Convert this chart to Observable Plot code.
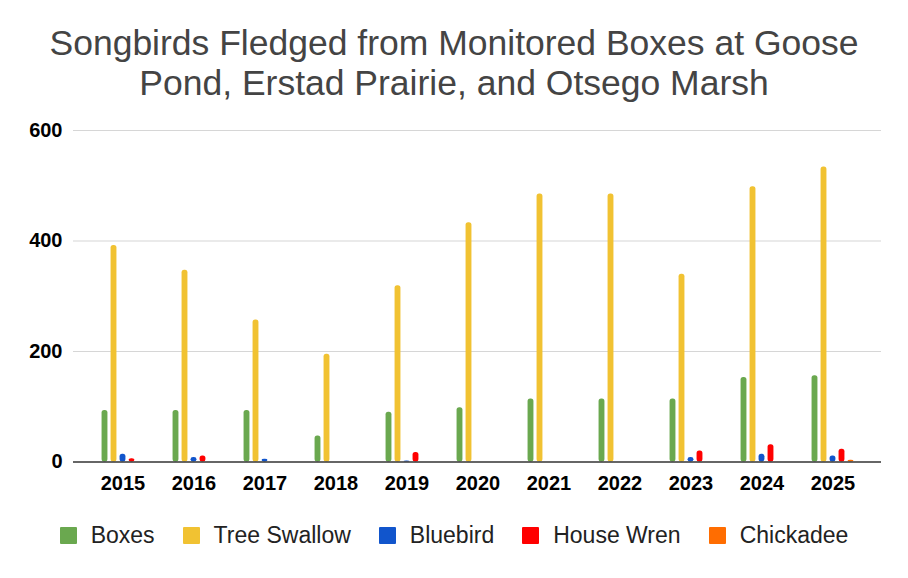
<!DOCTYPE html>
<html>
<head>
<meta charset="utf-8">
<script src="https://cdn.jsdelivr.net/npm/d3@7"></script>
<script src="https://cdn.jsdelivr.net/npm/@observablehq/plot@0.6"></script>
<style>
  html, body { margin: 0; padding: 0; background: #fff; }
  body { width: 908px; font-family: Arial, "Liberation Sans", sans-serif; }
  #title { height: 105px; box-sizing: border-box; padding-top: 22.5px; text-align: center; font-size: 35.5px; color: #444; white-space: nowrap; }
  #title div { height: 40.6px; line-height: 40.6px; }
  #legend { display: flex; justify-content: center; align-items: center; gap: 28px; padding-top: 15px; font-size: 23px; color: #222; }
  #legend .item { display: flex; align-items: center; }
  #legend .sw { width: 17px; height: 17px; margin-right: 14px; border-radius: 1px; }
  svg { display: block; }
</style>
</head>
<body>
<div id="title"><div>Songbirds Fledged from Monitored Boxes at Goose</div><div>Pond, Erstad Prairie, and Otsego Marsh</div></div>
<div id="chart"></div>
<div id="legend"></div>
<script>
const years = ["2015","2016","2017","2018","2019","2020","2021","2022","2023","2024","2025"];
const seriesNames = ["Boxes","Tree Swallow","Bluebird","House Wren","Chickadee"];
const seriesColors = ["#6aa84f","#f1c232","#1155cc","#ff0000","#ff6d01"];
const boxes       = [93, 93, 93, 47, 90, 98, 114, 114, 114, 153, 156];
const treeSwallow = [392, 347, 257, 195, 319, 433, 485, 485, 340, 498, 534];
const bluebird    = [14, 8, 5, 0, 2, 0, 0, 0, 8, 14, 11];
const houseWren   = [6, 11, 0, 0, 17, 0, 0, 0, 20, 31, 23];
const chickadee   = [0, 0, 0, 0, 0, 0, 0, 0, 0, 0, 3];
const yTicks = [0, 200, 400, 600];

const seriesValues = [boxes, treeSwallow, bluebird, houseWren, chickadee];
const data = [];
seriesNames.forEach((s, i) => years.forEach((y, j) => data.push({year: y, series: s, value: seriesValues[i][j]})));

const width = 908, marginLeft = 73, marginRight = 27;
const paddingOuter = 0.18;
const step = (width - marginLeft - marginRight) / (years.length + 2 * paddingOuter);
const barW = 6, barStep = 9;
const inset = (step - barW) / 2;

const marks = [
  Plot.ruleY(yTicks.filter(d => d !== 0), {stroke: "#d6d6d6", strokeWidth: 1.2})
];
seriesNames.forEach((s, i) => {
  marks.push(Plot.barY(data.filter(d => d.series === s && d.value > 0), {
    x: "year", y: "value", fill: seriesColors[i],
    dx: (i - 2) * barStep, insetLeft: inset, insetRight: inset, rx: 2.5
  }));
});
marks.push(Plot.ruleY([0], {stroke: "#333", strokeWidth: 1.5}));

const chart = Plot.plot({
  width, height: 402,
  marginLeft, marginRight, marginTop: 25, marginBottom: 45.5,
  style: {fontSize: "20px", fontWeight: "bold", fontFamily: "Arial, 'Liberation Sans', sans-serif", color: "#000", background: "#fff"},
  x: {type: "band", domain: years, paddingInner: 0, paddingOuter, tickSize: 0, tickPadding: 14, label: null},
  y: {domain: [0, 600], ticks: yTicks, tickSize: 0, tickPadding: 11, label: null, tickFormat: d => String(d)},
  marks
});
document.getElementById("chart").appendChild(chart);

const legend = document.getElementById("legend");
seriesNames.forEach((s, i) => {
  const item = document.createElement("div");
  item.className = "item";
  const sw = document.createElement("span");
  sw.className = "sw";
  sw.style.background = seriesColors[i];
  const label = document.createElement("span");
  label.textContent = s;
  item.appendChild(sw); item.appendChild(label);
  legend.appendChild(item);
});
</script>
</body>
</html>
